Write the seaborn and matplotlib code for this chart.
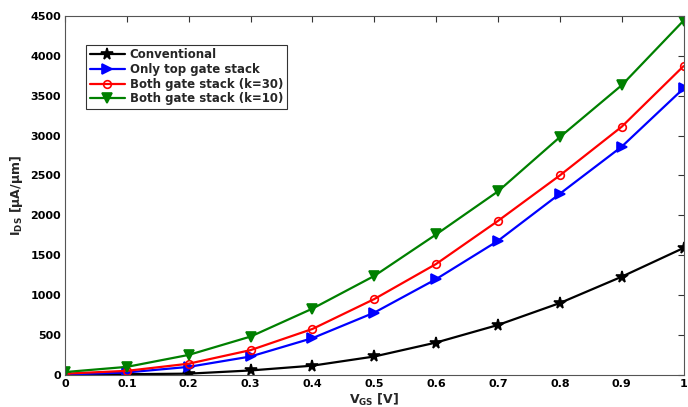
import numpy as np
import pandas as pd
import seaborn as sns
import matplotlib
matplotlib.use("Agg")
import matplotlib.pyplot as plt

vgs = [0.0, 0.1, 0.2, 0.3, 0.4, 0.5, 0.6, 0.7, 0.8, 0.9, 1.0]
conventional = [5, 8, 15, 55, 115, 230, 405, 625, 900, 1230, 1590]
only_top = [5, 30, 100, 230, 460, 780, 1200, 1680, 2270, 2860, 3590]
both_k30 = [15, 50, 140, 310, 575, 950, 1390, 1930, 2500, 3110, 3870]
both_k10 = [35, 100, 250, 480, 830, 1240, 1760, 2300, 2980, 3630, 4440]

series_names = ["Conventional", "Only top gate stack",
                "Both gate stack (k=30)", "Both gate stack (k=10)"]
series_values = [conventional, only_top, both_k30, both_k10]
colors = ["black", "blue", "red", "green"]
markers = ["*", ">", "o", "v"]

xticks = [0, 0.1, 0.2, 0.3, 0.4, 0.5, 0.6, 0.7, 0.8, 0.9, 1]
xticklabels = ["0", "0.1", "0.2", "0.3", "0.4", "0.5", "0.6", "0.7", "0.8", "0.9", "1"]
yticks = list(range(0, 4501, 500))

df = pd.concat(
    [pd.DataFrame({"VGS": vgs, "IDS": v, "Device": n})
     for n, v in zip(series_names, series_values)],
    ignore_index=True,
)

sns.set_style("white")
plt.rcParams["font.family"] = ["DejaVu Sans"]

fig = plt.figure(figsize=(6.88, 4.07), dpi=100)
ax = fig.add_axes([0.0945, 0.079, 0.899, 0.882])

marker_sizes = {"*": 8.5, ">": 6.5, "o": 5.5, "v": 6.5}
for name, col, mk in zip(series_names, colors, markers):
    sub = df[df["Device"] == name]
    sns.lineplot(data=sub, x="VGS", y="IDS", ax=ax, label=name,
                 marker=mk, color=col, linewidth=1.6,
                 markersize=marker_sizes[mk], markeredgecolor=col,
                 markeredgewidth=1.2,
                 markerfacecolor="none" if mk == "o" else col)

ax.set_xlim(0, 1)
ax.set_ylim(0, 4500)
ax.set_xticks(xticks)
ax.set_xticklabels(xticklabels)
ax.set_yticks(yticks)
ax.tick_params(direction="in", top=True, right=True, length=4, width=0.8,
               labelsize=8, pad=3, colors="#333333", labelcolor="black")
for lab in ax.get_xticklabels() + ax.get_yticklabels():
    lab.set_fontweight("bold")
for sp in ax.spines.values():
    sp.set_color("#555555")
    sp.set_linewidth(0.8)

ax.set_xlabel(r"$\mathbf{V_{GS}}$ [V]", fontsize=9, fontweight="bold", labelpad=2)
ax.set_ylabel(r"$\mathbf{I_{DS}}$ [$\mathbf{\mu}$A/$\mathbf{\mu}$m]", fontsize=9,
              fontweight="bold", labelpad=4)

leg = ax.legend(loc="upper left", bbox_to_anchor=(0.034, 0.92), borderaxespad=0,
                frameon=True, fancybox=False, edgecolor="black",
                prop={"weight": "bold", "size": 8.5}, handlelength=3,
                borderpad=0.3, labelspacing=0.15, handletextpad=0.4)
leg.get_frame().set_linewidth(0.8)

fig.savefig("out.png", dpi=100)
